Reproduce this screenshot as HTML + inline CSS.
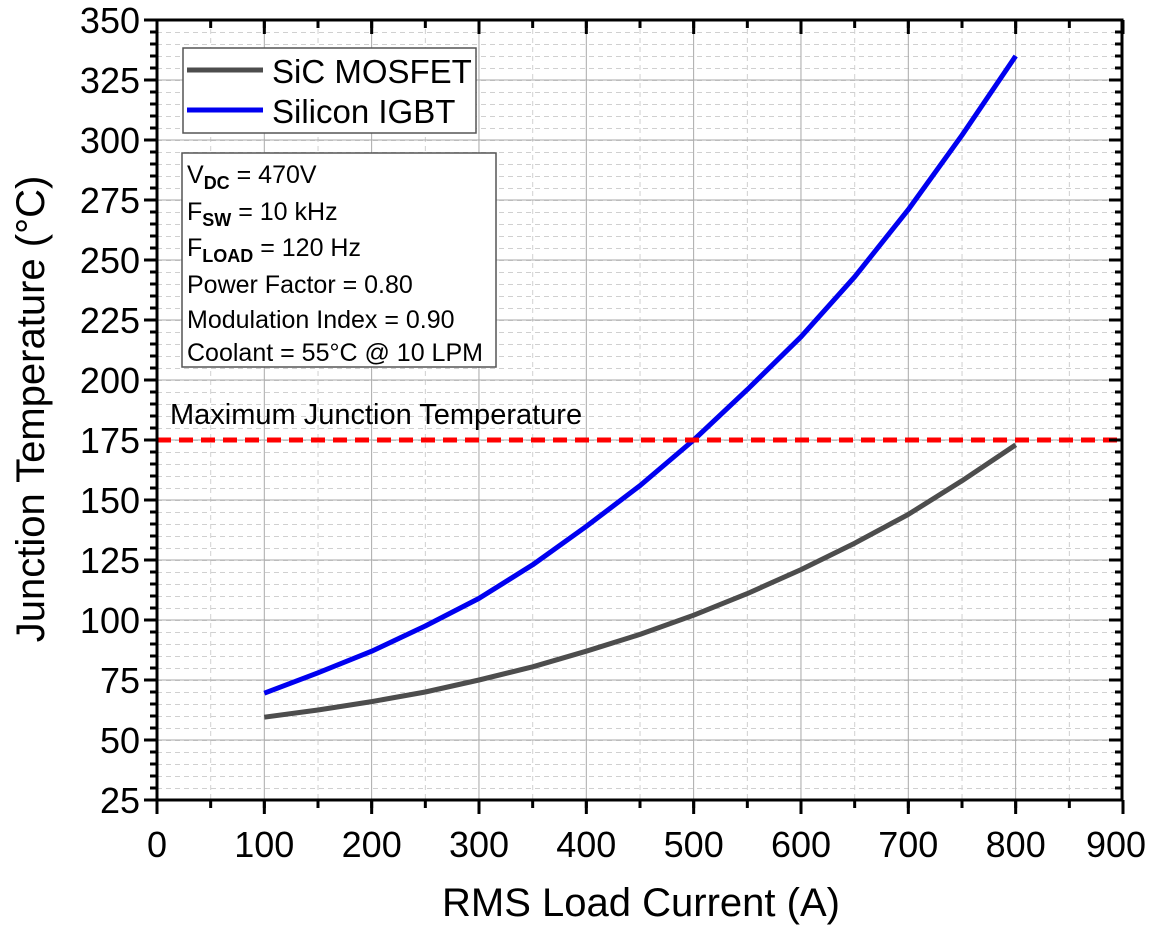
<!DOCTYPE html>
<html><head><meta charset="utf-8"><style>body{margin:0;background:#fff}svg{display:block}</style></head><body>
<svg width="1152" height="926" xmlns="http://www.w3.org/2000/svg" font-family="Liberation Sans, sans-serif">
<defs>
<pattern id="hmin" x="157" y="20" width="9" height="12" patternUnits="userSpaceOnUse"><rect x="0" y="0" width="5" height="1" fill="#d0d0d0"/></pattern>
<pattern id="vmin" x="210.2" y="20" width="107.333" height="9" patternUnits="userSpaceOnUse"><rect x="0" y="0" width="1" height="5" fill="#d0d0d0"/></pattern>
<pattern id="hmaj" x="157" y="19.5" width="10" height="60" patternUnits="userSpaceOnUse"><rect x="0" y="0" width="10" height="1" fill="#a8a8a8"/></pattern>
<pattern id="vmaj" x="263.8" y="20" width="107.333" height="10" patternUnits="userSpaceOnUse"><rect x="0" y="0" width="1" height="10" fill="#a8a8a8"/></pattern>
</defs>
<rect x="158" y="21" width="963" height="778" fill="url(#hmin)"/>
<rect x="158" y="21" width="963" height="778" fill="url(#vmin)"/>
<rect x="158" y="21" width="963" height="778" fill="url(#hmaj)"/>
<rect x="158" y="21" width="963" height="778" fill="url(#vmaj)"/>

<polyline fill="none" stroke="#4d4d4d" stroke-width="5" stroke-linejoin="round" points="264.3,717.2 318,710 371.7,701.6 425.3,692 479,680 532.7,666.8 586.3,651.2 640,634.4 693.7,615.2 747.3,593.6 801,569.6 854.7,543.2 908.3,514.4 962,480.8 1015.7,444.8"/>
<polyline fill="none" stroke="#0000f0" stroke-width="5" stroke-linejoin="round" points="264.3,693.2 318,672.8 371.7,651.2 425.3,626 479,598.4 532.7,564.8 586.3,526.4 640,485.6 693.7,440 747.3,389.6 801,336.8 854.7,276.8 908.3,209.6 962,135.2 1015.7,56"/>
<line x1="157" x2="1122" y1="440" y2="440" stroke="#f00" stroke-width="5" stroke-dasharray="14,8"/>

<g stroke="#000">
<line x1="155.5" x2="1125" y1="804" y2="804" stroke-width="8" stroke-dasharray="3,50.667"/>
<line x1="155.5" x2="1125" y1="807" y2="807" stroke-width="14" stroke-dasharray="3,104.333"/>
<line x1="155.5" x2="1125" y1="24" y2="24" stroke-width="8" stroke-dasharray="3,50.667"/>
<line x1="155.5" x2="1125" y1="27" y2="27" stroke-width="14" stroke-dasharray="3,104.333"/>
<line x1="153.5" x2="153.5" y1="18.5" y2="802" stroke-width="7" stroke-dasharray="3,9"/>
<line x1="150.5" x2="150.5" y1="18.5" y2="802" stroke-width="13" stroke-dasharray="3,57"/>
<line x1="1118.5" x2="1118.5" y1="18.5" y2="802" stroke-width="7" stroke-dasharray="3,9"/>
<line x1="1115.5" x2="1115.5" y1="18.5" y2="802" stroke-width="13" stroke-dasharray="3,57"/>
</g>
<rect x="157" y="20" width="965" height="780" fill="none" stroke="#000" stroke-width="3"/>

<g font-size="36" text-anchor="middle">
<text x="157" y="857">0</text><text x="264.3" y="857">100</text><text x="371.7" y="857">200</text><text x="479" y="857">300</text><text x="586.3" y="857">400</text><text x="693.7" y="857">500</text><text x="801" y="857">600</text><text x="908.3" y="857">700</text><text x="1015.7" y="857">800</text><text x="1116" y="857">900</text>
</g>
<g font-size="36" text-anchor="end">
<text x="140" y="813">25</text><text x="140" y="753">50</text><text x="140" y="693">75</text><text x="140" y="633">100</text><text x="140" y="573">125</text><text x="140" y="513">150</text><text x="140" y="453">175</text><text x="140" y="393">200</text><text x="140" y="333">225</text><text x="140" y="273">250</text><text x="140" y="213">275</text><text x="140" y="153">300</text><text x="140" y="93">325</text><text x="140" y="33">350</text>
</g>

<text x="170" y="424" font-size="29">Maximum Junction Temperature</text>
<rect x="183" y="48" width="293" height="85" fill="#fff" stroke="#555" stroke-width="1.5"/>
<line x1="187" x2="263" y1="70" y2="70" stroke="#4d4d4d" stroke-width="5"/>
<line x1="187" x2="263" y1="110" y2="110" stroke="#0000f0" stroke-width="5"/>
<text x="272" y="83" font-size="33">SiC MOSFET</text>
<text x="272" y="123" font-size="33">Silicon IGBT</text>
<rect x="182" y="153" width="314" height="214" fill="#fff" stroke="#555" stroke-width="1.5"/>
<g font-size="25">
<text x="187" y="183">V<tspan font-size="18" font-weight="bold" dy="6">DC</tspan><tspan dy="-6"> = 470V</tspan></text>
<text x="187" y="220">F<tspan font-size="18" font-weight="bold" dy="6">SW</tspan><tspan dy="-6"> = 10 kHz</tspan></text>
<text x="187" y="256">F<tspan font-size="18" font-weight="bold" dy="6">LOAD</tspan><tspan dy="-6"> = 120 Hz</tspan></text>
<text x="187" y="293">Power Factor = 0.80</text>
<text x="187" y="328">Modulation Index = 0.90</text>
<text x="187" y="361">Coolant = 55°C @ 10 LPM</text>
</g>
<text x="641" y="916" font-size="40" text-anchor="middle">RMS Load Current (A)</text>
<text transform="translate(44,409) rotate(-90)" font-size="40" text-anchor="middle">Junction Temperature (°C)</text>
</svg>
</body></html>
